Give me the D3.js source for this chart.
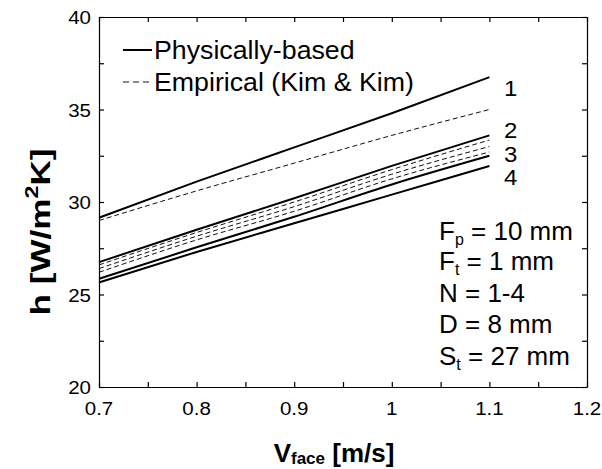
<!DOCTYPE html>
<html>
<head>
<meta charset="utf-8">
<script src="https://cdn.jsdelivr.net/npm/d3@7"></script>
<style>
  body { margin: 0; background: #fff; }
  text { font-family: "Liberation Sans", Arial, sans-serif; fill: #000; }
</style>
</head>
<body>
<script>
const wSvg = 602;
const hSvg = 469;
const xLeft = 99, xRight = 587, yTop = 17, yBottom = 387;

// face velocity [m/s]
const vFace = [0.7, 0.8, 0.9, 1.0, 1.1];

// physically-based model, N = 1..4
const physical1 = [29.15, 31.1, 32.95, 34.8, 36.75];
const physical2 = [26.75, 28.5, 30.2, 31.95, 33.6];
const physical3 = [25.85, 27.55, 29.2, 30.95, 32.5];
const physical4 = [25.65, 27.3, 28.85, 30.4, 31.95];

// empirical (Kim & Kim), N = 1..4
const empirical1 = [29.0, 30.6, 32.1, 33.6, 35.0];
const empirical2 = [26.6, 28.35, 30.0, 31.75, 33.35];
const empirical3 = [26.4, 28.15, 29.75, 31.5, 33.0];
const empirical4 = [26.2, 27.95, 29.5, 31.25, 32.7];

const rowLabels = ["1", "2", "3", "4"];
const rowLabelY = [36.2, 33.95, 32.65, 31.4];

const xTickLabels = [0.7, 0.8, 0.9, 1, 1.1, 1.2];
const yTickLabels = [20, 25, 30, 35, 40];

let xScale = d3.scaleLinear([0.7, 1.2], [xLeft, xRight]);
let yScale = d3.scaleLinear([20, 40], [yBottom, yTop]);

let svg = d3.select("body")
  .append("svg")
  .attr("width", wSvg)
  .attr("height", hSvg);

// text stretched a little, like the scanned figure
function label(x, y, sx, size, anchor, weight, rot, sy) {
  return svg.append("g")
    .attr("transform", `translate(${x},${y}) rotate(${rot || 0}) scale(${sx},${sy || 1})`)
    .append("text")
    .attr("text-anchor", anchor)
    .attr("font-size", size + "px")
    .attr("font-weight", weight || "normal");
}

// ticks every 0.05 / 2.5, pointing inward on all four sides
const xTicks = d3.range(0, 11).map(i => 0.7 + i * 0.05);
const yTicks = d3.range(0, 9).map(i => 20 + i * 2.5);

function styleAxis(g) {
  g.select(".domain").attr("stroke", "#000").attr("stroke-width", 1.2);
  g.selectAll(".tick line").attr("stroke", "#000").attr("stroke-width", 1.2);
  g.selectAll(".tick text").remove();
}

svg.append("g")
  .attr("transform", `translate(0,${yBottom})`)
  .call(d3.axisBottom(xScale).tickValues(xTicks).tickSizeInner(-5).tickSizeOuter(0).tickFormat(""))
  .call(styleAxis);
svg.append("g")
  .attr("transform", `translate(0,${yTop})`)
  .call(d3.axisTop(xScale).tickValues(xTicks).tickSizeInner(-5).tickSizeOuter(0).tickFormat(""))
  .call(styleAxis);
svg.append("g")
  .attr("transform", `translate(${xLeft},0)`)
  .call(d3.axisLeft(yScale).tickValues(yTicks).tickSizeInner(-5).tickSizeOuter(0).tickFormat(""))
  .call(styleAxis);
svg.append("g")
  .attr("transform", `translate(${xRight},0)`)
  .call(d3.axisRight(yScale).tickValues(yTicks).tickSizeInner(-5).tickSizeOuter(0).tickFormat(""))
  .call(styleAxis);

for (let t of xTickLabels) {
  label(xScale(t), 415, 1.08, 19, "middle").text(t);
}
for (let t of yTickLabels) {
  label(91, yScale(t) + 7, 1.08, 19, "end").text(t);
}

// axis titles
let xTitle = label(334, 462, 1.0, 26, "middle", "bold");
xTitle.append("tspan").text("V");
xTitle.append("tspan").attr("font-size", "17px").attr("dy", 2).text("face");
xTitle.append("tspan").attr("dy", -2).text(" [m/s]");

let yTitle = label(50, 232, 1.3, 27, "middle", "bold", -90);
yTitle.append("tspan").text("h [W/m");
yTitle.append("tspan").attr("font-size", "18px").attr("dy", -12).text("2");
yTitle.append("tspan").attr("dy", 12).text("K]");

// series
let line = d3.line()
  .x((d, i) => xScale(vFace[i]))
  .y(d => yScale(d))
  .curve(d3.curveMonotoneX);

const physical = [physical1, physical2, physical3, physical4];
const empirical = [empirical1, empirical2, empirical3, empirical4];

svg.append("g").selectAll("path")
  .data(empirical)
  .enter()
  .append("path")
  .attr("d", line)
  .attr("fill", "none")
  .attr("stroke", "#111")
  .attr("stroke-width", 1)
  .attr("stroke-dasharray", "5,3");

svg.append("g").selectAll("path")
  .data(physical)
  .enter()
  .append("path")
  .attr("d", line)
  .attr("fill", "none")
  .attr("stroke", "#000")
  .attr("stroke-width", 2);

// row numbers, squeezed so the stacked digits keep apart
rowLabels.forEach((t, i) => {
  label(504, yScale(rowLabelY[i]) + 9, 1.2, 20, "start", "normal", 0, 1.1).text(t);
});

// legend
svg.append("line")
  .attr("x1", 123).attr("x2", 152).attr("y1", 50).attr("y2", 50)
  .attr("stroke", "#000").attr("stroke-width", 2);
svg.append("line")
  .attr("x1", 123).attr("x2", 152).attr("y1", 82).attr("y2", 82)
  .attr("stroke", "#111").attr("stroke-width", 1).attr("stroke-dasharray", "6,4");
label(154, 59, 1.07, 25, "start").text("Physically-based");
label(154, 91, 1.07, 25, "start").text("Empirical (Kim & Kim)");

// geometry note
const paramLines = [["F", "p", " = 10 mm"], ["F", "t", " = 1 mm"], ["N = 1-4", "", ""], ["D = 8 mm", "", ""], ["S", "t", " = 27 mm"]];
const paramBase = [240, 270, 301.5, 333, 364.5];
paramLines.forEach((p, i) => {
  let t = label(439, paramBase[i], 1.0, 26, "start");
  t.append("tspan").text(p[0]);
  if (p[1]) {
    t.append("tspan").attr("font-size", "16px").attr("dy", 5).text(p[1]);
    t.append("tspan").attr("dy", -5).text(p[2]);
  }
});
</script>
</body>
</html>
